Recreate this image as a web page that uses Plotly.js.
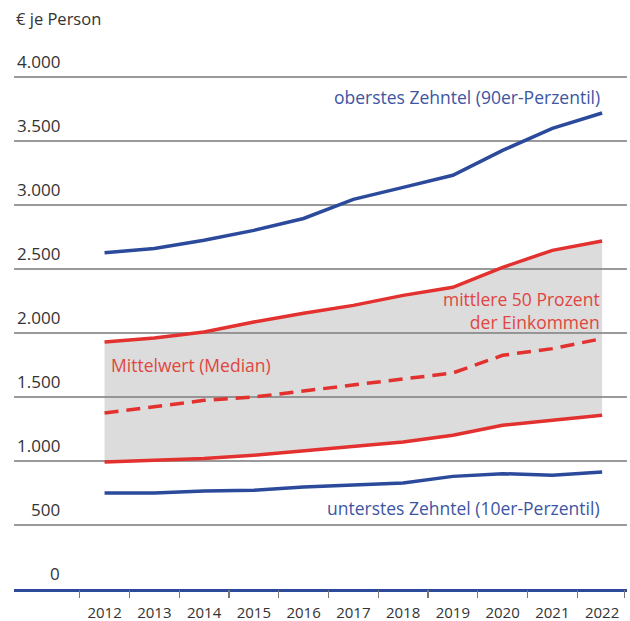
<!DOCTYPE html>
<html><head><meta charset="utf-8">
<script src="https://cdn.plot.ly/plotly-3.0.1.min.js"></script>
<style>html,body{margin:0;padding:0;background:#fff}#chart{width:630px;height:621px}</style>
</head><body><div id="chart"></div>
<script>
const years = [2012,2013,2014,2015,2016,2017,2018,2019,2020,2021,2022];
const p90 = [2627,2660,2724,2802,2895,3044,3138,3232,3427,3599,3719];
const p75 = [1930,1961,2008,2086,2154,2216,2294,2357,2513,2646,2719];
const median = [1375,1427,1474,1500,1547,1591,1644,1688,1826,1878,1956];
const p25 = [992,1005,1019,1045,1078,1109,1148,1201,1279,1318,1357];
const p10 = [750,750,766,771,797,810,828,880,901,888,914];
const yTickVals = [0,500,1000,1500,2000,2500,3000,3500,4000];
const yTickText = ['0','500','1.000','1.500','2.000','2.500','3.000','3.500','4.000'];
const unitLabel = '€ je Person';
const labelP90 = 'oberstes Zehntel (90er-Perzentil)';
const labelMid = 'mittlere 50 Prozent<br>der Einkommen';
const labelMedian = 'Mittelwert (Median)';
const labelP10 = 'unterstes Zehntel (10er-Perzentil)';

const BLUE = '#2c4a9c', RED = '#e2312f';
const FONT = '"Open Sans", sans-serif';

const traces = [
  {x: years, y: p25, type:'scatter', mode:'lines', line:{color:RED, width:3.5}, hoverinfo:'skip'},
  {x: years, y: p75, type:'scatter', mode:'lines', fill:'tonexty', fillcolor:'rgba(140,140,140,0.3)', line:{color:RED, width:3.5}, hoverinfo:'skip'},
  {x: years, y: median, type:'scatter', mode:'lines', line:{color:RED, width:3.5, dash:'14px,8px'}, hoverinfo:'skip'},
  {x: years, y: p90, type:'scatter', mode:'lines', line:{color:BLUE, width:3.5}, hoverinfo:'skip'},
  {x: years, y: p10, type:'scatter', mode:'lines', line:{color:BLUE, width:3.5}, hoverinfo:'skip'},
  {x: [2012], y:[0], xaxis:'x2', type:'scatter', mode:'none', hoverinfo:'skip'}
];

const annotations = [];
yTickVals.forEach((v,i)=>{
  annotations.push({xref:'paper', yref:'y', x:0.0785, y:v, xanchor:'right', yanchor:'bottom', yshift:2,
    text:yTickText[i], showarrow:false, font:{family:FONT, size:17, color:'#333'}});
});
annotations.push({xref:'paper', yref:'paper', x:0, y:1.079, xanchor:'left', yanchor:'middle',
  text:unitLabel, showarrow:false, font:{family:FONT, size:16.5, color:'#333'}});
annotations.push({xref:'x', yref:'y', x:2022, y:3841, xanchor:'right', yanchor:'middle',
  text:labelP90, showarrow:false, font:{family:FONT, size:17.5, color:'#3d55a2'}});
annotations.push({xref:'x', yref:'y', x:2022, y:2177, xanchor:'right', yanchor:'middle', align:'right',
  text:labelMid, showarrow:false, font:{family:FONT, size:17.5, color:'#e0463f'}});
annotations.push({xref:'x', yref:'y', x:2012, y:1750, xanchor:'left', yanchor:'middle', xshift:4,
  text:labelMedian, showarrow:false, font:{family:FONT, size:17.5, color:'#e0463f'}});
annotations.push({xref:'x', yref:'y', x:2022, y:635, xanchor:'right', yanchor:'middle',
  text:labelP10, showarrow:false, font:{family:FONT, size:17.5, color:'#3d55a2'}});

const xr = [2010.18, 2022.5];
const tickBounds = years.map(y=>y-0.5).concat([years[years.length-1]+0.45]);
const layout = {
  width:630, height:621,
  margin:{l:14, r:3, t:60, b:32},
  paper_bgcolor:'#fff', plot_bgcolor:'#fff',
  showlegend:false,
  font:{family:FONT, color:'#333'},
  xaxis:{range:xr, tickmode:'array', tickvals:years, ticktext:years.map(String),
    ticks:'', showgrid:false, zeroline:false, showline:true, linecolor:BLUE, linewidth:3,
    tickfont:{family:FONT, size:15, color:'#333'}, ticklabelstandoff:8, fixedrange:true},
  xaxis2:{range:xr, overlaying:'x', side:'bottom', anchor:'y', tickmode:'array', tickvals:tickBounds,
    ticks:'outside', ticklen:8, tickwidth:1.2, tickcolor:'#777', showticklabels:false,
    showgrid:false, zeroline:false, showline:false},
  yaxis:{range:[0,4133], tickmode:'array', tickvals:yTickVals.slice(1), showticklabels:false,
    showgrid:true, gridcolor:'#9a9a9a', gridwidth:1.5, zeroline:false, ticks:'', fixedrange:true},
  annotations:annotations
};
Plotly.newPlot('chart', traces, layout, {staticPlot:true, displayModeBar:false});
</script></body></html>
